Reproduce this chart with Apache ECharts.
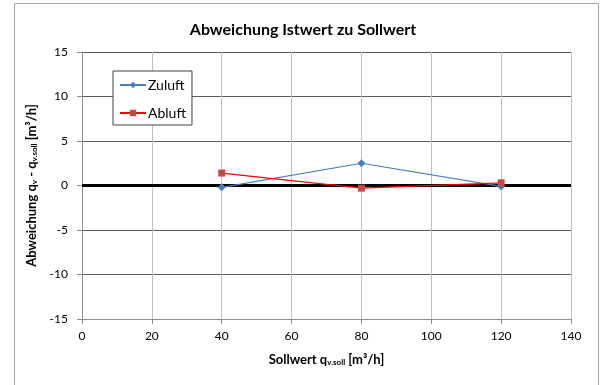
<!DOCTYPE html>
<html>
<head>
<meta charset="utf-8">
<script src="https://cdn.jsdelivr.net/npm/echarts@6/dist/echarts.min.js"></script>
<style>
  html, body { margin: 0; padding: 0; background: #fff; }
  #chart { width: 606px; height: 385px; }
</style>
</head>
<body>
<div id="chart"></div>
<script>
// Setpoint values on the x axis [m³/h]
const sollwerte = [40, 80, 120];
// Deviation actual minus setpoint [m³/h]
const zuluft = [-0.2, 2.5, -0.1];
const abluft = [1.4, -0.3, 0.3];
const seriesNames = ['Zuluft', 'Abluft'];
const titleText = 'Abweichung Istwert zu Sollwert';

const FONT = 'Lato, "Open Sans", sans-serif';

const pairs = (xs, ys) => xs.map((x, i) => [x, ys[i]]);

const chart = echarts.init(document.getElementById('chart'), null, { renderer: 'canvas' });

chart.setOption({
  backgroundColor: '#ffffff',
  animation: false,
  textStyle: { fontFamily: FONT },
  title: {
    text: titleText,
    left: 'center',
    top: 17,
    textStyle: { fontFamily: FONT, fontSize: 16, fontWeight: 'bold', color: '#000' }
  },
  graphic: [{
    type: 'rect',
    shape: { x: 14.5, y: 3.5, width: 584, height: 400 },
    style: { fill: null, stroke: '#a6a6a6', lineWidth: 1 },
    silent: true,
    z: -1
  }],
  legend: {
    orient: 'vertical',
    left: 113,
    top: 71,
    padding: [7, 6, 5, 6],
    itemGap: 14,
    itemWidth: 26,
    itemHeight: 8,
    backgroundColor: '#ffffff',
    borderColor: '#404040',
    borderWidth: 1,
    textStyle: { fontFamily: FONT, fontSize: 14, color: '#000', padding: [0, 0, 0, -3] },
    data: seriesNames
  },
  grid: { left: 82, right: 35, top: 52, bottom: 66 },
  xAxis: {
    type: 'value',
    min: 0,
    max: 140,
    interval: 20,
    name: '{n|Sollwert q}{s|v.soll}{n| [m³/h]}',
    nameLocation: 'middle',
    nameGap: 34,
    nameTextStyle: {
      rich: {
        n: { fontFamily: FONT, fontSize: 13, fontWeight: 'bold', color: '#000' },
        s: { fontFamily: FONT, fontSize: 8, fontWeight: 'bold', color: '#000', padding: [5, 0, 0, 0] }
      }
    },
    axisLine: { onZero: false, lineStyle: { color: '#8c8c8c', width: 1 } },
    axisTick: { show: true, length: 5, lineStyle: { color: '#8c8c8c' } },
    axisLabel: { fontFamily: FONT, fontSize: 12, color: '#000', margin: 11 },
    splitLine: { show: true, lineStyle: { color: '#bfbfbf', width: 1 } }
  },
  yAxis: {
    type: 'value',
    min: -15,
    max: 15,
    interval: 5,
    name: '{n|Abweichung q}{s|v}{n| - q}{s|v.soll}{n| [m³/h]}',
    nameLocation: 'middle',
    nameRotate: 90,
    nameGap: 42,
    nameTextStyle: {
      rich: {
        n: { fontFamily: FONT, fontSize: 13, fontWeight: 'bold', color: '#000' },
        s: { fontFamily: FONT, fontSize: 8, fontWeight: 'bold', color: '#000', padding: [5, 0, 0, 0] }
      }
    },
    axisLine: { show: true, onZero: false, lineStyle: { color: '#8c8c8c', width: 1 } },
    axisTick: { show: true, length: 5, lineStyle: { color: '#8c8c8c' } },
    axisLabel: { fontFamily: FONT, fontSize: 12, color: '#000', margin: 14 },
    splitLine: { show: true, lineStyle: { color: '#595959', width: 1 } }
  },
  series: [
    {
      name: seriesNames[0],
      type: 'line',
      data: pairs(sollwerte, zuluft),
      symbol: 'diamond',
      symbolSize: 8,
      itemStyle: { color: '#4a7ebb' },
      lineStyle: { color: '#4a7ebb', width: 1.25 },
      z: 4,
      markLine: {
        silent: true,
        symbol: 'none',
        label: { show: false },
        lineStyle: { color: '#000000', width: 3, type: 'solid' },
        data: [{ yAxis: 0 }],
        z: 3
      }
    },
    {
      name: seriesNames[1],
      type: 'line',
      data: pairs(sollwerte, abluft),
      symbol: 'rect',
      symbolSize: 7,
      itemStyle: { color: '#be4b48' },
      lineStyle: { color: '#ff0000', width: 1.25 },
      z: 5
    }
  ]
});
</script>
</body>
</html>
